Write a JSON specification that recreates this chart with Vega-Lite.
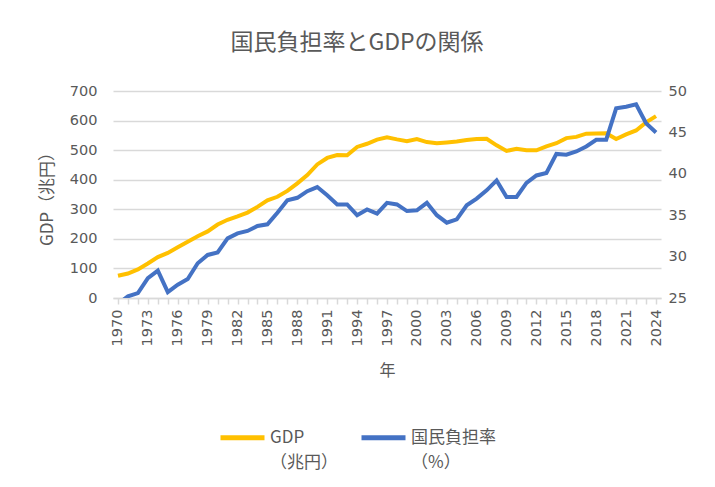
{
  "$schema": "https://vega.github.io/schema/vega-lite/v6.json",
  "autosize": "none",
  "width": 548,
  "height": 207,
  "padding": {"left": 113, "top": 91, "right": 54, "bottom": 189},
  "background": "white",
  "title": {
    "text": "国民負担率とGDPの関係",
    "fontSize": 23,
    "fontWeight": "normal",
    "color": "#595959",
    "dx": -30,
    "offset": 28
  },
  "data": {
    "values": [
      {"year": 1970, "gdp": 75.3, "burden": 24.3},
      {"year": 1971, "gdp": 82.9, "burden": 25.2},
      {"year": 1972, "gdp": 96.5, "burden": 25.6},
      {"year": 1973, "gdp": 116.7, "burden": 27.4},
      {"year": 1974, "gdp": 138.5, "burden": 28.3},
      {"year": 1975, "gdp": 152.4, "burden": 25.7},
      {"year": 1976, "gdp": 171.3, "burden": 26.6},
      {"year": 1977, "gdp": 190.1, "burden": 27.3},
      {"year": 1978, "gdp": 209.0, "burden": 29.2},
      {"year": 1979, "gdp": 225.2, "burden": 30.2},
      {"year": 1980, "gdp": 248.4, "burden": 30.5},
      {"year": 1981, "gdp": 264.6, "burden": 32.2},
      {"year": 1982, "gdp": 276.2, "burden": 32.8},
      {"year": 1983, "gdp": 288.8, "burden": 33.1},
      {"year": 1984, "gdp": 308.2, "burden": 33.7},
      {"year": 1985, "gdp": 330.4, "burden": 33.9},
      {"year": 1986, "gdp": 342.3, "burden": 35.3},
      {"year": 1987, "gdp": 362.3, "burden": 36.8},
      {"year": 1988, "gdp": 387.7, "burden": 37.1},
      {"year": 1989, "gdp": 415.9, "burden": 37.9},
      {"year": 1990, "gdp": 451.7, "burden": 38.4},
      {"year": 1991, "gdp": 473.6, "burden": 37.4},
      {"year": 1992, "gdp": 483.3, "burden": 36.3},
      {"year": 1993, "gdp": 482.6, "burden": 36.3},
      {"year": 1994, "gdp": 510.9, "burden": 35.0},
      {"year": 1995, "gdp": 521.6, "burden": 35.7},
      {"year": 1996, "gdp": 535.6, "burden": 35.2},
      {"year": 1997, "gdp": 543.5, "burden": 36.5},
      {"year": 1998, "gdp": 536.5, "burden": 36.3},
      {"year": 1999, "gdp": 530.3, "burden": 35.5},
      {"year": 2000, "gdp": 537.6, "burden": 35.6},
      {"year": 2001, "gdp": 527.4, "burden": 36.5},
      {"year": 2002, "gdp": 523.5, "burden": 35.0},
      {"year": 2003, "gdp": 526.2, "burden": 34.1},
      {"year": 2004, "gdp": 529.6, "burden": 34.5},
      {"year": 2005, "gdp": 534.1, "burden": 36.2},
      {"year": 2006, "gdp": 537.3, "burden": 37.0},
      {"year": 2007, "gdp": 538.5, "burden": 38.0},
      {"year": 2008, "gdp": 516.2, "burden": 39.2},
      {"year": 2009, "gdp": 497.4, "burden": 37.2},
      {"year": 2010, "gdp": 504.9, "burden": 37.2},
      {"year": 2011, "gdp": 500.0, "burden": 38.9},
      {"year": 2012, "gdp": 499.4, "burden": 39.8},
      {"year": 2013, "gdp": 512.7, "burden": 40.1},
      {"year": 2014, "gdp": 523.4, "burden": 42.4},
      {"year": 2015, "gdp": 540.7, "burden": 42.3},
      {"year": 2016, "gdp": 544.8, "burden": 42.7},
      {"year": 2017, "gdp": 555.7, "burden": 43.3},
      {"year": 2018, "gdp": 556.6, "burden": 44.1},
      {"year": 2019, "gdp": 557.3, "burden": 44.1},
      {"year": 2020, "gdp": 537.6, "burden": 47.9},
      {"year": 2021, "gdp": 553.1, "burden": 48.1},
      {"year": 2022, "gdp": 566.5, "burden": 48.4},
      {"year": 2023, "gdp": 594.0, "burden": 46.1},
      {"year": 2024, "gdp": 615.0, "burden": 45.0}
    ]
  },
  "encoding": {
    "x": {
      "field": "year",
      "type": "ordinal",
      "scale": {"type": "point", "padding": 0.5},
      "axis": {
        "title": "年",
        "titleFontSize": 16,
        "titleFontWeight": "normal",
        "titleColor": "#595959",
        "titlePadding": 17,
        "labelAngle": -90,
        "labelFont": "DejaVu Sans",
        "labelFontSize": 14.5,
        "labelColor": "#595959",
        "labelPadding": 5,
        "labelExpr": "(datum.value - 1970) % 3 == 0 ? datum.label : ''",
        "domainColor": "#d9d9d9",
        "domainWidth": 1.5,
        "tickColor": "#d9d9d9",
        "tickWidth": 1.5,
        "tickSize": 6,
        "grid": false
      }
    }
  },
  "layer": [
    {
      "mark": {"type": "line", "strokeWidth": 4, "clip": true},
      "encoding": {
        "y": {
          "field": "gdp",
          "type": "quantitative",
          "scale": {"domain": [0, 700], "nice": false},
          "axis": {
            "title": "GDP（兆円）",
            "titleFontSize": 17,
            "titleFontWeight": "normal",
            "titleColor": "#595959",
            "titlePadding": 13,
            "values": [0, 100, 200, 300, 400, 500, 600, 700],
            "labelFont": "DejaVu Sans",
            "labelFontSize": 14.5,
            "labelColor": "#595959",
            "labelPadding": 16,
            "ticks": false,
            "domain": false,
            "grid": true,
            "gridColor": "#d9d9d9",
            "gridWidth": 1.5
          }
        },
        "color": {"datum": "GDP\n（兆円）"}
      }
    },
    {
      "mark": {"type": "line", "strokeWidth": 4, "clip": true},
      "encoding": {
        "y": {
          "field": "burden",
          "type": "quantitative",
          "scale": {"domain": [25, 50], "nice": false},
          "axis": {
            "orient": "right",
            "title": null,
            "values": [25, 30, 35, 40, 45, 50],
            "labelFont": "DejaVu Sans",
            "labelFontSize": 14.5,
            "labelColor": "#595959",
            "labelPadding": 7,
            "ticks": false,
            "domain": false,
            "grid": false
          }
        },
        "color": {"datum": "国民負担率\n（%）"}
      }
    }
  ],
  "resolve": {"scale": {"y": "independent"}},
  "config": {
    "font": "Noto Sans CJK JP",
    "view": {"stroke": null},
    "range": {"category": ["#FFC000", "#4472C4"]},
    "style": {"guide-label": {"lineBreak": "\n", "lineHeight": 25}},
    "legend": {
      "orient": "none",
      "legendX": 105,
      "legendY": 322,
      "direction": "horizontal",
      "title": null,
      "symbolType": "stroke",
      "symbolSize": 1936,
      "symbolStrokeWidth": 5,
      "labelFontSize": 17,
      "labelColor": "#595959",
      "labelOffset": 3,
      "labelLimit": 300,
      "columnPadding": 13
    }
  }
}
